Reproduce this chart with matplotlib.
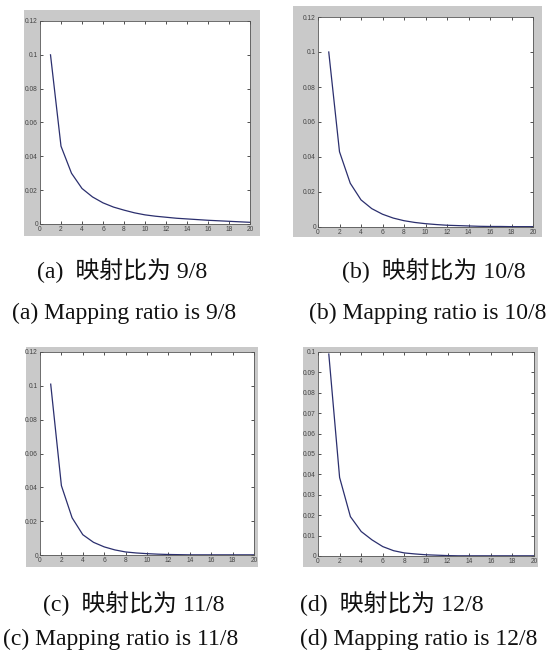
import matplotlib
matplotlib.use("Agg")
import matplotlib.pyplot as plt
from matplotlib.patches import Rectangle

# ---- data ----
x_vals = list(range(1, 21))
y_a = [0.100, 0.046, 0.030, 0.021, 0.016, 0.0125, 0.0100, 0.0082, 0.0066, 0.0054,
       0.0046, 0.0040, 0.0034, 0.0030, 0.0026, 0.0022, 0.0019, 0.0016, 0.0013, 0.0010]
y_b = [0.100, 0.043, 0.025, 0.0155, 0.0105, 0.0073, 0.0051, 0.0036, 0.0026, 0.0019,
       0.0014, 0.0010, 0.0008, 0.0006, 0.0004, 0.0003, 0.0003, 0.0002, 0.0002, 0.0002]
y_c = [0.101, 0.041, 0.022, 0.012, 0.0075, 0.0048, 0.0030, 0.0018, 0.0012, 0.0008,
       0.0005, 0.0003, 0.0002, 0.0001, 0.0001, 0.0001, 0.0001, 0.0001, 0.0001, 0.0001]
y_d = [0.099, 0.0385, 0.0193, 0.0120, 0.0079, 0.0046, 0.0026, 0.0015, 0.0010, 0.0006,
       0.0004, 0.0002, 0.0001, 0.0001, 0.0001, 0.0001, 0.0001, 0.0001, 0.0001, 0.0001]

x_ticks = [0, 2, 4, 6, 8, 10, 12, 14, 16, 18, 20]
x_ticklabels = ["0", "2", "4", "6", "8", "10", "12", "14", "16", "18", "20"]
y_ticks_012 = [0, 0.02, 0.04, 0.06, 0.08, 0.10, 0.12]
y_ticklabels_012 = ["0", "0.02", "0.04", "0.06", "0.08", "0.1", "0.12"]
y_ticks_010 = [0, 0.01, 0.02, 0.03, 0.04, 0.05, 0.06, 0.07, 0.08, 0.09, 0.10]
y_ticklabels_010 = ["0", "0.01", "0.02", "0.03", "0.04", "0.05", "0.06", "0.07",
                    "0.08", "0.09", "0.1"]

captions_cn = ["(a)  映射比为 9/8", "(b)  映射比为 10/8",
               "(c)  映射比为 11/8", "(d)  映射比为 12/8"]
captions_en = ["(a) Mapping ratio is 9/8", "(b) Mapping ratio is 10/8",
               "(c) Mapping ratio is 11/8", "(d) Mapping ratio is 12/8"]

W, H = 555, 655
fig = plt.figure(figsize=(W / 100, H / 100), dpi=100)
fig.patch.set_facecolor("white")


def frac_rect(x0, y0, x1, y1):
    # pixel box (top-origin) -> figure fraction [left, bottom, width, height]
    return [x0 / W, 1 - y1 / H, (x1 - x0) / W, (y1 - y0) / H]


panels = [
    dict(gray=(24, 10, 260, 236), ax=(40, 21, 250, 224), y=y_a,
         yt=y_ticks_012, ytl=y_ticklabels_012, ylim=0.12,
         cn=(37, 271), en=(12, 313)),
    dict(gray=(293, 6, 542, 237), ax=(318, 17, 533, 227), y=y_b,
         yt=y_ticks_012, ytl=y_ticklabels_012, ylim=0.12,
         cn=(342, 271), en=(309, 313)),
    dict(gray=(26, 347, 258, 567), ax=(40, 352, 254, 555), y=y_c,
         yt=y_ticks_012, ytl=y_ticklabels_012, ylim=0.12,
         cn=(43, 604), en=(3, 639)),
    dict(gray=(303, 347, 538, 567), ax=(318, 352, 534, 556), y=y_d,
         yt=y_ticks_010, ytl=y_ticklabels_010, ylim=0.10,
         cn=(300, 604), en=(300, 639)),
]

cap_family = ["Liberation Serif", "Noto Sans CJK SC"]

bg = fig.add_axes([0, 0, 1, 1], zorder=-5)
bg.set_xlim(0, W)
bg.set_ylim(H, 0)
bg.axis("off")

for i, p in enumerate(panels):
    gx0, gy0, gx1, gy1 = p["gray"]
    bg.add_patch(Rectangle((gx0, gy0), gx1 - gx0, gy1 - gy0,
                           facecolor="#c9c9c9", edgecolor="none"))
    ax = fig.add_axes(frac_rect(*p["ax"]), zorder=2)
    ax.set_facecolor("white")
    ax.plot(x_vals, p["y"], color="#2b2f6e", lw=0.9)
    ax.set_xlim(0, 20)
    ax.set_ylim(0, p["ylim"])
    ax.set_xticks(x_ticks)
    ax.set_xticklabels(x_ticklabels)
    ax.set_yticks(p["yt"])
    ax.set_yticklabels(p["ytl"])
    ax.tick_params(direction="in", length=2.5, width=0.6, top=True, right=True,
                   labelsize=4.8, labelcolor="#444444", color="#333333", pad=1.5)
    for s in ax.spines.values():
        s.set_linewidth(0.6)
        s.set_color("#555555")
    for t in ax.get_xticklabels() + ax.get_yticklabels():
        t.set_family("Liberation Sans")
    fig.text(p["cn"][0] / W, 1 - p["cn"][1] / H, captions_cn[i], ha="left",
             va="center", fontsize=17.2, family=cap_family, color="#111111")
    fig.text(p["en"][0] / W, 1 - p["en"][1] / H, captions_en[i], ha="left",
             va="center", fontsize=17.0, family=cap_family, color="#111111")

fig.savefig("out.png", dpi=100)
